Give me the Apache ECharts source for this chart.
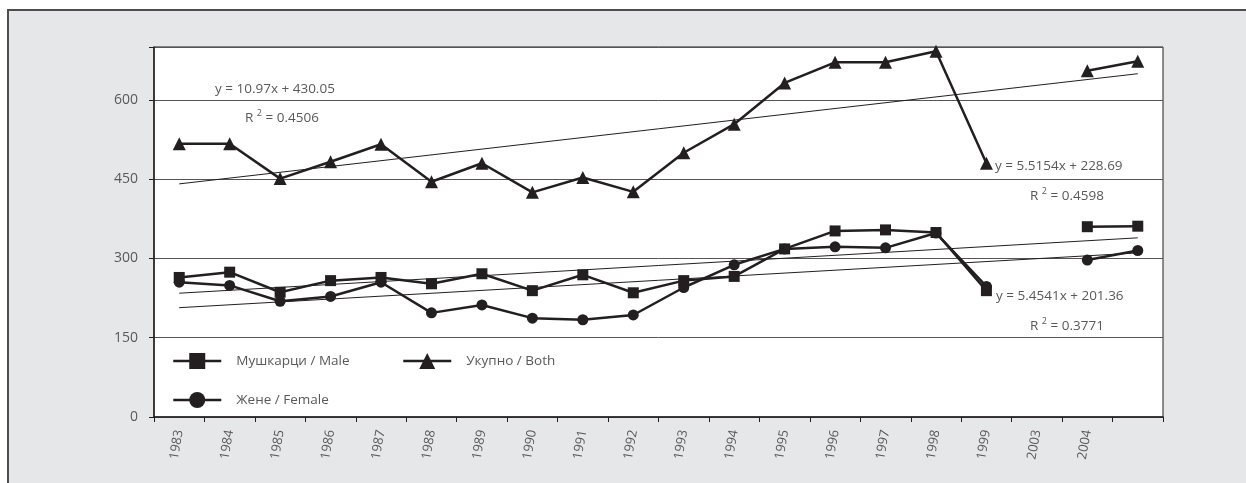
<!DOCTYPE html>
<html>
<head>
<meta charset="utf-8">
<script src="https://cdn.jsdelivr.net/npm/echarts@6/dist/echarts.min.js"></script>
<style>
  html, body { margin: 0; padding: 0; background: #ffffff; }
  body { width: 1246px; height: 483px; position: relative; overflow: hidden; }
  #frame {
    position: absolute; left: 7px; top: 9px; width: 1300px; height: 600px;
    background: #e6e7e8; border-top: 2px solid #4d4d4f; border-left: 2px solid #4d4d4f;
  }
  #chart { position: absolute; left: 0; top: 0; width: 1246px; height: 483px; }
</style>
</head>
<body>
<div id="frame"></div>
<div id="chart"></div>
<script>
// Years on the category axis (last slot carries data but no label)
const years = ['1983','1984','1985','1986','1987','1988','1989','1990','1991','1992',
               '1993','1994','1995','1996','1997','1998','1999','2003','2004',''];

const male   = [264, 274, 236, 258, 264, 252, 271, 239, 269, 235,
                258, 266, 318, 352, 354, 349, 239, null, 360, 361];
const both   = [517, 517, 451, 483, 516, 445, 480, 425, 453, 426,
                500, 554, 632, 671, 671, 692, 480, null, 655, 673];
const female = [255, 249, 219, 228, 255, 197, 212, 187, 184, 193,
                245, 288, 318, 322, 320, 348, 247, null, 297, 315];

// Linear trend coefficients [slope, intercept] and R² as printed on the chart
const trendBoth   = [10.97, 430.05];
const trendMale   = [5.5154, 228.69];
const trendFemale = [5.4541, 201.36];
const r2Labels = ['0.4506', '0.4598', '0.3771'];

const yTicks = [0, 150, 300, 450, 600];

function trendLine(coef) {
  // x runs 1..n over the category slots
  const n = years.length;
  return [[years[0], coef[0] * 1 + coef[1]], [years[n - 1], coef[0] * n + coef[1]]];
}

const INK = '#231f20';
const TXT = '#58595b';
const FONT = '"Open Sans", "Noto Sans", sans-serif';

function dataSeries(name, data, symbol, size) {
  return {
    name, type: 'line', data, symbol, symbolSize: size,
    connectNulls: false,
    lineStyle: { color: INK, width: 2.5 },
    itemStyle: { color: INK, borderColor: INK, borderWidth: 0 },
    z: 5, animation: false
  };
}

function trendSeries(coef) {
  return {
    type: 'line', data: trendLine(coef), symbol: 'none',
    lineStyle: { color: INK, width: 1 }, silent: true, z: 3, animation: false
  };
}

function eqText(x, y, str) {
  return { type: 'text', left: x, top: y, style: { text: str, fill: TXT, font: '13.5px ' + FONT } };
}
function r2Text(x, y, val) {
  return {
    type: 'text', left: x, top: y,
    style: {
      text: 'R {s|2} = ' + val, fill: TXT, font: '13.5px ' + FONT,
      rich: { s: { fontSize: 9, fontFamily: FONT, verticalAlign: 'top', padding: [0, 0, 9, 0], fill: TXT } }
    }
  };
}

const legendBase = {
  itemWidth: 48, itemHeight: 20,
  lineStyle: { color: INK, width: 2.5 },
  itemStyle: { color: INK },
  textStyle: { color: TXT, fontSize: 13.5, fontFamily: FONT, padding: [0, 0, 0, 10] },
  selectedMode: false
};

const chart = echarts.init(document.getElementById('chart'), null, { renderer: 'canvas' });
chart.setOption({
  animation: false,
  backgroundColor: 'transparent',
  grid: {
    left: 154, top: 47, right: 83, bottom: 66,
    show: true, backgroundColor: '#ffffff', borderColor: INK, borderWidth: 1
  },
  xAxis: {
    type: 'category', data: years, boundaryGap: true,
    axisLine: { show: true, lineStyle: { color: INK, width: 1.5 } },
    axisTick: { show: true, length: 5, inside: false, lineStyle: { color: INK, width: 1 } },
    axisLabel: { rotate: 80, color: TXT, fontSize: 13, fontFamily: FONT, margin: 13, interval: 0 },
    splitLine: { show: false }
  },
  yAxis: {
    type: 'value', min: yTicks[0], max: 700, interval: yTicks[1] - yTicks[0],
    axisLine: { show: true, lineStyle: { color: INK, width: 1.5 } },
    axisTick: { show: true, length: 5, lineStyle: { color: INK } },
    axisLabel: {
      color: TXT, fontSize: 14, fontFamily: FONT, margin: 16,
      formatter: v => (yTicks.indexOf(v) >= 0 ? String(v) : '')
    },
    splitLine: { show: true, lineStyle: { color: '#555555', width: 1 } }
  },
  legend: [
    Object.assign({}, legendBase, { left: 167, top: 348, data: ['Мушкарци / Male'] }),
    Object.assign({}, legendBase, { left: 397, top: 348, data: ['Укупно / Both'] }),
    Object.assign({}, legendBase, { left: 167, top: 387, data: ['Жене / Female'] })
  ],
  graphic: [
    eqText(215, 82, 'y = 10.97x + 430.05'),
    r2Text(245, 109, r2Labels[0]),
    eqText(995, 159, 'y = 5.5154x + 228.69'),
    r2Text(1030, 187, r2Labels[1]),
    eqText(996, 289, 'y = 5.4541x + 201.36'),
    r2Text(1030, 317, r2Labels[2])
  ],
  series: [
    dataSeries('Мушкарци / Male', male, 'rect', 11),
    dataSeries('Укупно / Both', both, 'triangle', 13),
    dataSeries('Жене / Female', female, 'circle', 11),
    trendSeries(trendBoth),
    trendSeries(trendMale),
    trendSeries(trendFemale)
  ]
});
</script>
</body>
</html>
